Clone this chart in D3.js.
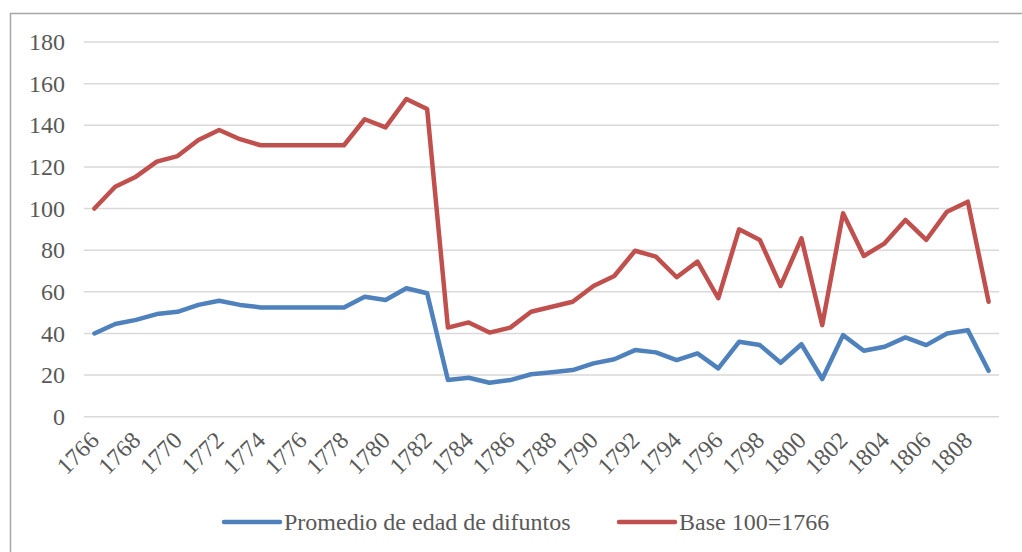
<!DOCTYPE html>
<html>
<head>
<meta charset="utf-8">
<script src="https://cdn.jsdelivr.net/npm/d3@7"></script>
<style>
  body { margin: 0; background: #fff; }
</style>
</head>
<body>
<div id="chart"></div>
<script>
var serif = "'Liberation Serif', 'Times New Roman', serif";

// years 1766..1809
var years = d3.range(1766, 1810);

var promedio = [40, 44.5, 46.5, 49.3, 50.4, 53.7, 55.7, 53.7, 52.5, 52.5,
    52.5, 52.5, 52.5, 57.6, 56.1, 61.7, 59.3, 17.6, 18.7, 16.3,
    17.6, 20.4, 21.3, 22.4, 25.6, 27.6, 32, 30.9, 27.2, 30.4,
    23.2, 36, 34.4, 25.9, 34.8, 18.1, 39.2, 31.7, 33.6, 38.1,
    34.4, 40, 41.6, 22.1];

var base100 = [100, 110.5, 115.3, 122.5, 125.2, 132.9, 137.7, 133.3, 130.4, 130.4,
    130.4, 130.4, 130.4, 142.9, 139, 152.6, 147.8, 42.8, 45.3, 40.4,
    42.8, 50.4, 52.8, 55.2, 62.8, 67.6, 79.7, 76.9, 67, 74.5,
    56.9, 90, 84.9, 62.8, 85.7, 44, 97.7, 77.2, 83.3, 94.5,
    84.9, 98.5, 103.3, 55.2];

var yTicks = [0, 20, 40, 60, 80, 100, 120, 140, 160, 180];

var seriesNames = ["Promedio de edad de difuntos", "Base 100=1766"];
var seriesColors = ["#4F81BD", "#C0504D"];

var svgWidth = 1022;
var svgHeight = 552;

var margin = { top: 42, right: 23, bottom: 135, left: 84 };
var width = svgWidth - margin.left - margin.right;
var height = 416.7 - margin.top;

var svg = d3.select("#chart")
    .append("svg")
    .attr("width", svgWidth)
    .attr("height", svgHeight)
    .style("font-family", serif);

// outer chart border
svg.append("rect")
    .attr("x", 10.5)
    .attr("y", 13.5)
    .attr("width", svgWidth)
    .attr("height", svgHeight)
    .attr("fill", "none")
    .attr("stroke", "#a6a6a6")
    .attr("stroke-width", 1.5);

var chartGroup = svg.append("g")
    .attr("transform", `translate(${margin.left}, ${margin.top})`);

var xScale = d3.scaleBand()
    .domain(years)
    .range([0, width]);

var yScale = d3.scaleLinear()
    .domain([0, 180])
    .range([height, 0]);

// gridlines
chartGroup.selectAll(".grid")
    .data(yTicks)
    .enter()
    .append("line")
    .attr("x1", 0)
    .attr("x2", width)
    .attr("y1", d => yScale(d))
    .attr("y2", d => yScale(d))
    .attr("stroke", "#d9d9d9")
    .attr("stroke-width", 1.5);

// y axis labels
var yAxis = d3.axisLeft(yScale).tickValues(yTicks).tickSize(0).tickPadding(19);
var yG = chartGroup.append("g").call(yAxis)
    .attr("font-family", null);
yG.select(".domain").remove();
yG.selectAll("text")
    .style("font-size", "24px")
    .style("fill", "#595959");

// x axis labels, rotated
var xLabels = years.filter(y => (y - 1766) % 2 === 0);
var xAxis = d3.axisBottom(xScale).tickValues(xLabels).tickSize(0).tickPadding(0);
var xG = chartGroup.append("g")
    .attr("transform", `translate(0, ${height})`)
    .call(xAxis)
    .attr("font-family", null);
xG.select(".domain").remove();
xG.selectAll("text")
    .style("font-size", "24px")
    .style("fill", "#595959")
    .attr("text-anchor", "end")
    .attr("dy", null)
    .attr("y", 0)
    .attr("transform", "translate(6, 25) rotate(-45)");

// lines
var line = d3.line()
    .x((d, i) => xScale(years[i]) + xScale.bandwidth() / 2)
    .y(d => yScale(d));

[promedio, base100].forEach(function(values, i) {
    chartGroup.append("path")
        .datum(values)
        .attr("d", line)
        .attr("fill", "none")
        .attr("stroke", seriesColors[i])
        .attr("stroke-width", 4.5)
        .attr("stroke-linejoin", "round")
        .attr("stroke-linecap", "round");
});

// legend
var legendX = [224, 619];
var legend = svg.selectAll(".legend")
    .data(seriesNames)
    .enter()
    .append("g")
    .attr("transform", (d, i) => `translate(${legendX[i]}, 522)`);

legend.append("line")
    .attr("x1", 0)
    .attr("x2", 56)
    .attr("stroke", (d, i) => seriesColors[i])
    .attr("stroke-width", 4.5)
    .attr("stroke-linecap", "round");

legend.append("text")
    .attr("x", 60)
    .attr("dy", "0.35em")
    .style("font-size", "24px")
    .style("fill", "#595959")
    .text(d => d);
</script>
</body>
</html>
